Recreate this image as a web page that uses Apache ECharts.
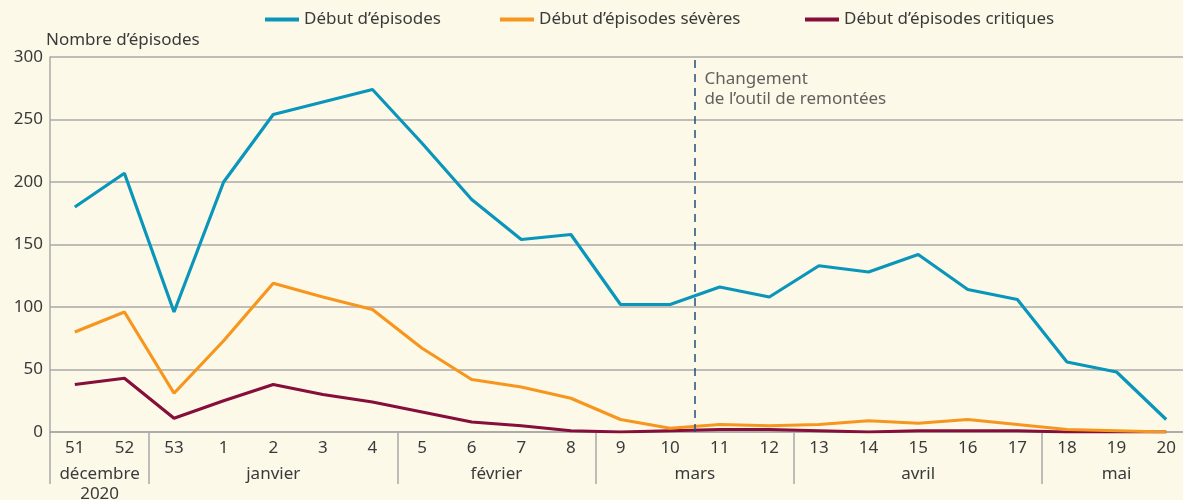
<!DOCTYPE html>
<html>
<head>
<meta charset="utf-8">
<script src="https://cdn.jsdelivr.net/npm/echarts@6/dist/echarts.min.js"></script>
<style>
  html, body { margin: 0; padding: 0; background: #fdf9e8; overflow: hidden; }
  #chart { width: 1183px; height: 500px; }
</style>
</head>
<body>
<div id="chart"></div>
<script>
// Weeks (ISO week numbers)
const weeks = ['51','52','53','1','2','3','4','5','6','7','8','9','10','11','12','13','14','15','16','17','18','19','20'];
// Series values
const debutEpisodes   = [180, 207, 96, 200, 254, 264, 274, 231, 186, 154, 158, 102, 102, 116, 108, 133, 128, 142, 114, 106, 56, 48, 10];
const debutSeveres    = [80, 96, 31, 73, 119, 108, 98, 67, 42, 36, 27, 10, 3, 6, 5, 6, 9, 7, 10, 6, 2, 1, 0];
const debutCritiques  = [38, 43, 11, 25, 38, 30, 24, 16, 8, 5, 1, 0, 1, 2, 2, 1, 0, 1, 1, 1, 0, 0, 0];
// Month labels: position (category index) and name
const monthCenters = [0.5, 4, 8.5, 12.5, 17, 21];
const monthNames   = ['décembre\n2020', 'janvier', 'février', 'mars', 'avril', 'mai'];
const monthBounds  = [-0.5, 1.5, 6.5, 10.5, 14.5, 19.5];
// Annotation
const changeAt = 12.5;
const changeText = 'Changement\nde l\u2019outil de remontées';
const seriesNames = ['Début d\u2019épisodes', 'Début d\u2019épisodes sévères', 'Début d\u2019épisodes critiques'];
const seriesColors = ['#0a95ba', '#f7961e', '#850e3b'];
const yTicks = { min: 0, max: 300, interval: 50 };

const FONT = '"Noto Sans", Lato, sans-serif';
const TXT = '#3a3a3a';
const GRID = '#a8a8a8';
const FS = 17;

const legendLefts = [265, 500, 805];
const legends = seriesNames.map(function (n, i) {
  return {
    top: 11,
    left: legendLefts[i],
    padding: 0,
    itemWidth: 34,
    itemHeight: 4,
    icon: 'rect',
    textStyle: { fontFamily: FONT, fontSize: FS, color: TXT },
    data: [n]
  };
});

const chart = echarts.init(document.getElementById('chart'));
chart.setOption({
  backgroundColor: '#fdf9e8',
  animation: false,
  textStyle: { fontFamily: FONT },
  legend: legends,
  grid: { left: 50, right: -8, top: 57, bottom: 68, containLabel: false, outerBoundsMode: 'none' },
  xAxis: [
    {
      type: 'category',
      data: weeks,
      boundaryGap: true,
      axisLine: { show: true, onZero: false, lineStyle: { color: GRID, width: 1.5 } },
      axisTick: { show: false },
      axisLabel: { interval: 0, margin: 8, fontSize: FS, color: TXT, fontFamily: FONT },
      splitLine: { show: false }
    },
    {
      type: 'value',
      position: 'bottom',
      min: -0.5,
      max: 22.5,
      axisLine: { show: false, onZero: false },
      splitLine: { show: false },
      axisTick: {
        show: true,
        customValues: monthBounds,
        length: 52,
        lineStyle: { color: GRID, width: 1.5 }
      },
      axisLabel: {
        customValues: monthCenters,
        margin: 32,
        fontSize: FS,
        lineHeight: 20,
        color: TXT,
        fontFamily: FONT,
        formatter: function (v) {
          const i = monthCenters.indexOf(v);
          return i >= 0 ? monthNames[i] : '';
        }
      }
    }
  ],
  yAxis: {
    type: 'value',
    min: yTicks.min,
    max: yTicks.max,
    interval: yTicks.interval,
    name: 'Nombre d\u2019épisodes',
    nameLocation: 'end',
    nameGap: 7,
    nameTextStyle: { align: 'left', fontSize: FS, color: TXT, fontFamily: FONT, padding: [0, 0, 0, -4] },
    axisLine: { show: true, onZero: false, lineStyle: { color: GRID, width: 1.5 } },
    axisTick: { show: false },
    axisLabel: { margin: 7, fontSize: FS, color: TXT, fontFamily: FONT },
    splitLine: { show: true, lineStyle: { color: GRID, width: 1.5 } }
  },
  series: [
    {
      name: seriesNames[0], type: 'line', data: debutEpisodes,
      symbol: 'none', lineStyle: { width: 3.2, color: seriesColors[0] }, itemStyle: { color: seriesColors[0] }, z: 5
    },
    {
      name: seriesNames[1], type: 'line', data: debutSeveres,
      symbol: 'none', lineStyle: { width: 3.2, color: seriesColors[1] }, itemStyle: { color: seriesColors[1] }, z: 4
    },
    {
      name: seriesNames[2], type: 'line', data: debutCritiques,
      symbol: 'none', lineStyle: { width: 3.2, color: seriesColors[2] }, itemStyle: { color: seriesColors[2] }, z: 3
    },
    {
      name: 'annotation', type: 'scatter', xAxisIndex: 1,
      data: [[changeAt, yTicks.max]],
      symbolSize: 1,
      itemStyle: { color: 'rgba(0,0,0,0)' },
      silent: true,
      label: {
        show: true,
        position: [10, 13],
        formatter: changeText,
        fontSize: FS,
        lineHeight: 20,
        color: TXT,
        fontFamily: FONT,
        align: 'left',
        verticalAlign: 'top'
      },
      markLine: {
        silent: true,
        symbol: 'none',
        label: { show: false },
        lineStyle: { type: [8, 6], color: '#1f4f7a', width: 1.5 },
        data: [{ xAxis: changeAt }]
      }
    }
  ]
});
</script>
</body>
</html>
